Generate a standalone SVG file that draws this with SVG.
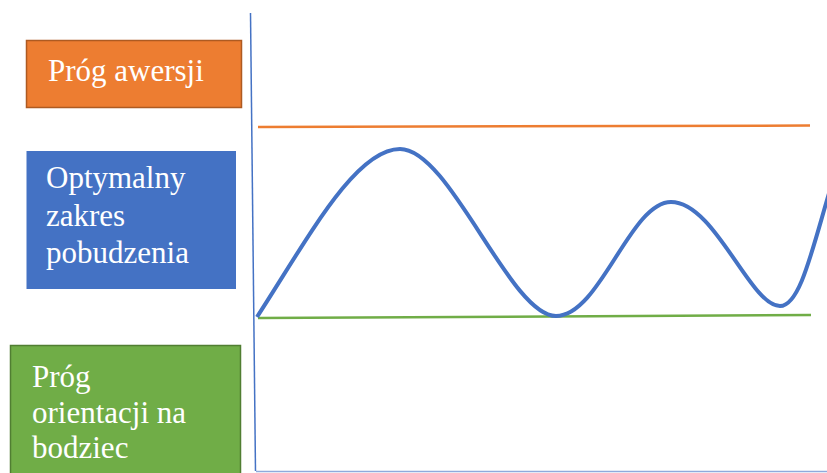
<svg xmlns="http://www.w3.org/2000/svg" width="827" height="473" viewBox="0 0 827 473">
<style>
text{font-family:'Liberation Serif','Times New Roman',serif;font-size:31px;fill:#ffffff}
.axis{stroke:#4472C4;stroke-width:1.5;fill:none}
</style>
<rect width="827" height="473" fill="#ffffff"/>
<g id="axes">
<line class="axis" x1="250.5" y1="13" x2="255.5" y2="471"/>
<line x1="256" y1="471.5" x2="827" y2="471.5" stroke="#8FAADC" stroke-width="1.5"/>
</g>
<g id="connectors">
<line id="aversion-line" x1="258" y1="127" x2="810" y2="125.5" stroke="#ED7D31" stroke-width="2.5"/>
<line id="orientation-line" x1="258" y1="318" x2="811" y2="315" stroke="#70AD47" stroke-width="2.5"/>
<path id="arousal-curve" d="M257,317 C307,240 355,149 400,149 C450,149 510,316 556,316 C600,316 630,202 671,202 C715,202 750,306 780,306 C800,306 812,250 830,190" fill="none" stroke="#4472C4" stroke-width="4"/>
</g>
<g id="node-aversion">
<rect x="26.5" y="40.5" width="215" height="67" fill="#ED7D31" stroke="#AE5A21" stroke-width="1.5"/>
<text x="48" y="81">Próg awersji</text>
</g>
<g id="node-optimal">
<rect x="26.5" y="151" width="209.5" height="138" fill="#4472C4"/>
<text x="46"><tspan x="46" y="188">Optymalny</tspan><tspan x="46" y="226">zakres</tspan><tspan x="46" y="263">pobudzenia</tspan></text>
</g>
<g id="node-orientation">
<rect x="10.5" y="345.5" width="230" height="140" fill="#70AD47" stroke="#507E32" stroke-width="1.5"/>
<text x="32"><tspan x="32" y="387">Próg</tspan><tspan x="32" y="423">orientacji na</tspan><tspan x="32" y="458">bodziec</tspan></text>
</g>
</svg>
